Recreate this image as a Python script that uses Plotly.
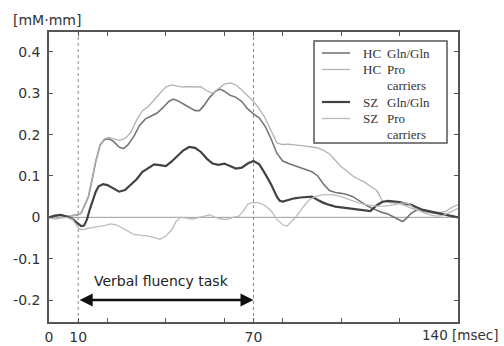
import plotly.graph_objects as go

# ---- data ----
hc_gln_t = [0, 2, 4, 6, 8, 10, 11, 12, 13.5, 15, 16, 17.5, 19, 20.5, 22, 24, 25.5, 27, 29, 31, 33, 35, 37, 39, 41, 42.5, 44, 46, 48, 50, 51.5, 53, 55, 57, 58.5, 60, 62, 64, 66, 68, 70, 72, 74, 76, 78, 80, 82, 84, 86, 88, 90, 92, 94, 96, 98, 100, 102, 104, 106, 108, 110, 112, 114, 116, 118, 120, 121, 122, 124, 126, 128, 130, 132, 134, 136, 138, 140]
hc_gln_v = [0, 0.003, 0.006, 0.002, 0.004, 0.006, 0.01, 0.025, 0.05, 0.1, 0.135, 0.175, 0.188, 0.19, 0.184, 0.17, 0.166, 0.175, 0.195, 0.222, 0.238, 0.245, 0.252, 0.265, 0.28, 0.286, 0.282, 0.274, 0.265, 0.258, 0.258, 0.27, 0.29, 0.305, 0.31, 0.305, 0.295, 0.29, 0.28, 0.262, 0.25, 0.24, 0.22, 0.19, 0.155, 0.136, 0.13, 0.125, 0.12, 0.115, 0.11, 0.1, 0.08, 0.065, 0.06, 0.058, 0.055, 0.05, 0.04, 0.032, 0.024, 0.018, 0.012, 0.008, 0, -0.008, -0.01, -0.005, 0.01, 0.018, 0.015, 0.012, 0.01, 0.008, 0.005, 0.002, 0]

hc_pro_t = [0, 2, 4, 6, 8, 10, 11, 12, 13.5, 15, 16, 17.5, 19, 20.5, 22, 24, 26, 28, 30, 32, 34, 36, 38, 40, 42, 44, 46, 48, 50, 52, 54, 56, 58, 60, 62, 64, 66, 68, 70, 72, 74, 76, 78, 80, 82, 84, 86, 88, 90, 92, 94, 96, 98, 100, 102, 104, 106, 108, 110, 112, 113, 114, 116, 118, 120, 122, 124, 126, 128, 130, 132, 134, 136, 138, 140]
hc_pro_v = [0, 0.002, 0.005, 0.003, 0.004, 0.006, 0.01, 0.025, 0.05, 0.1, 0.135, 0.175, 0.19, 0.193, 0.19, 0.186, 0.19, 0.205, 0.235, 0.258, 0.268, 0.285, 0.3, 0.315, 0.32, 0.317, 0.315, 0.316, 0.315, 0.316, 0.306, 0.3, 0.31, 0.322, 0.325, 0.32, 0.308, 0.295, 0.28, 0.262, 0.24, 0.21, 0.18, 0.176, 0.177, 0.175, 0.174, 0.172, 0.17, 0.168, 0.162, 0.153, 0.138, 0.122, 0.112, 0.1, 0.092, 0.085, 0.075, 0.066, 0.055, 0.04, 0.036, 0.035, 0.033, 0.028, 0.022, 0.018, 0.015, 0.013, 0.012, 0.012, 0.015, 0.025, 0.03]

sz_gln_t = [0, 2, 4, 6, 8, 10, 11, 12, 13, 14, 15, 16, 17, 18.5, 20, 22, 24, 26, 28, 30, 32, 34, 36, 38, 40, 42, 44, 46, 48, 50, 52, 54, 56, 58, 60, 62, 64, 66, 68, 70, 72, 74, 76, 78, 79, 80, 82, 84, 86, 88, 90, 92, 94, 96, 98, 100, 102, 104, 106, 108, 110, 112, 114, 116, 118, 120, 122, 124, 126, 128, 130, 132, 134, 136, 138, 140]
sz_gln_v = [0, 0.004, 0.006, 0.002, -0.004, -0.015, -0.021, -0.02, -0.005, 0.02, 0.04, 0.062, 0.075, 0.08, 0.078, 0.07, 0.062, 0.066, 0.078, 0.092, 0.11, 0.12, 0.128, 0.126, 0.124, 0.135, 0.148, 0.162, 0.17, 0.168, 0.158, 0.142, 0.13, 0.127, 0.13, 0.124, 0.118, 0.12, 0.13, 0.136, 0.128, 0.105, 0.08, 0.05, 0.04, 0.038, 0.042, 0.046, 0.048, 0.049, 0.05, 0.042, 0.035, 0.03, 0.026, 0.024, 0.022, 0.02, 0.018, 0.016, 0.015, 0.028, 0.037, 0.04, 0.039, 0.037, 0.033, 0.03, 0.024, 0.018, 0.015, 0.012, 0.009, 0.006, 0.003, 0]

sz_pro_t = [0, 2, 4, 6, 8, 10, 11, 13, 15, 17, 19, 21, 23, 25, 27, 29, 31, 33, 35, 37, 38, 40, 42, 43.5, 45, 47, 49, 51, 53, 55, 57, 59, 61, 63, 65, 66.5, 68, 70, 72, 74, 76, 78, 80, 81.5, 83, 85, 87, 89, 91, 94, 97, 100, 103, 106, 109, 112, 115, 118, 121, 123, 125, 128, 131, 133, 135, 137, 139, 140]
sz_pro_v = [0, -0.004, -0.002, 0, -0.005, -0.025, -0.03, -0.027, -0.025, -0.022, -0.02, -0.016, -0.018, -0.025, -0.034, -0.041, -0.043, -0.044, -0.047, -0.051, -0.053, -0.045, -0.03, -0.01, 0, -0.002, -0.004, -0.001, 0.002, 0.006, 0, -0.004, -0.005, 0, 0.003, 0.015, 0.032, 0.036, 0.035, 0.028, 0.016, -0.005, -0.018, -0.021, -0.01, 0.005, 0.025, 0.042, 0.05, 0.055, 0.055, 0.05, 0.042, 0.035, 0.03, 0.027, 0.027, 0.03, 0.035, 0.033, 0.022, 0.012, 0.005, 0.003, 0.005, 0.012, 0.02, 0.022]

group_labels = ["HC", "HC", "SZ", "SZ"]
genotype_labels = ["Gln/Gln", "Pro", "Gln/Gln", "Pro"]
carrier_suffix = ["", "carriers", "", "carriers"]

x_tickvals = [0, 10, 20, 40, 60, 70, 80, 100, 120, 140]
x_ticktext = ["0", "10", "", "", "", "70", "", "", "", ""]
y_tickvals = [-0.2, -0.1, 0, 0.1, 0.2, 0.3, 0.4]
y_ticktext = ["-0.2", "-0.1", "0", "0.1", "0.2", "0.3", "0.4"]
task_start, task_end = 10, 70

# ---- layout geometry (pixels) ----
W, H = 504, 346
ML, MR, MT, MB = 49, 46, 32, 24
PW, PH = W - ML - MR, H - MT - MB


def px(xp):
    return (xp - ML) / PW


def py(yp):
    return (H - MB - yp) / PH


styles = [dict(color="#767676", width=1.6),
          dict(color="#b2b2b2", width=1.3),
          dict(color="#424242", width=2.2),
          dict(color="#bcbcbc", width=1.3)]
data = [(hc_gln_t, hc_gln_v), (hc_pro_t, hc_pro_v), (sz_gln_t, sz_gln_v), (sz_pro_t, sz_pro_v)]

fig = go.Figure()
for (t, v), g, gen, st in zip(data, group_labels, genotype_labels, styles):
    fig.add_trace(go.Scatter(x=t, y=v, mode="lines", name=f"{g} {gen}", line=st,
                             showlegend=False))

# zero line and task markers
fig.add_hline(y=0, line=dict(color="#9a9a9a", width=1), layer="below")
for xv in (task_start, task_end):
    fig.add_vline(x=xv, line=dict(color="#888888", width=1, dash="dot"), layer="below")

# double-headed arrow
fig.add_annotation(x=task_end, y=-0.2, ax=task_start, ay=-0.2, xref="x", yref="y",
                   axref="x", ayref="y", text="", showarrow=True, arrowhead=2,
                   arrowside="end+start", arrowsize=1, arrowwidth=2.6, arrowcolor="#111111")
fig.add_annotation(x=38.5, y=-0.155, xref="x", yref="y", text="Verbal fluency task",
                   showarrow=False, font=dict(family="DejaVu Sans", size=14, color="#222222"))

sans = dict(family="DejaVu Sans", size=14, color="#333333")
fig.add_annotation(x=px(47), y=py(20), xref="paper", yref="paper", text="[mM\u00b7mm]",
                   showarrow=False, xanchor="center", yanchor="middle", font=sans)
fig.add_annotation(x=px(501), y=py(335), xref="paper", yref="paper", text="140 [msec]",
                   showarrow=False, xanchor="right", yanchor="middle",
                   font=dict(family="DejaVu Sans", size=13.5, color="#333333"))

# ---- custom legend ----
fig.add_shape(type="rect", xref="paper", yref="paper", x0=px(314), x1=px(447),
              y0=py(143), y1=py(41), line=dict(color="#555555", width=1.5),
              fillcolor="white", layer="above")
serif = dict(family="Liberation Serif", size=13, color="#333333")
row_y = [53, 69.5, 102, 118.5]
for i, yy in enumerate(row_y):
    fig.add_shape(type="line", xref="paper", yref="paper", x0=px(322), x1=px(350),
                  y0=py(yy), y1=py(yy), line=dict(color=styles[i]["color"], width=styles[i]["width"]),
                  layer="above")
    fig.add_annotation(x=px(361), y=py(yy), xref="paper", yref="paper", text=group_labels[i],
                       showarrow=False, xanchor="left", yanchor="middle", font=serif)
    fig.add_annotation(x=px(385), y=py(yy), xref="paper", yref="paper", text=genotype_labels[i],
                       showarrow=False, xanchor="left", yanchor="middle", font=serif)
    if carrier_suffix[i]:
        fig.add_annotation(x=px(385), y=py(yy + 16), xref="paper", yref="paper",
                           text=carrier_suffix[i], showarrow=False, xanchor="left",
                           yanchor="middle", font=serif)

axis_common = dict(showline=True, linecolor="#555555", linewidth=1.5, mirror="allticks",
                   ticks="inside", ticklen=4, tickcolor="#555555", showgrid=False,
                   zeroline=False, automargin=False, tickfont=sans)

fig.update_layout(
    width=W, height=H,
    margin=dict(l=ML, r=MR, t=MT, b=MB),
    paper_bgcolor="white", plot_bgcolor="white",
    showlegend=False,
    xaxis=dict(range=[0, 140], tickvals=x_tickvals, ticktext=x_ticktext,
               ticklabelstandoff=1, **axis_common),
    yaxis=dict(range=[-0.253, 0.448], tickvals=y_tickvals, ticktext=y_ticktext,
               ticklabelstandoff=4, **axis_common),
)

fig.write_html("out.html")
